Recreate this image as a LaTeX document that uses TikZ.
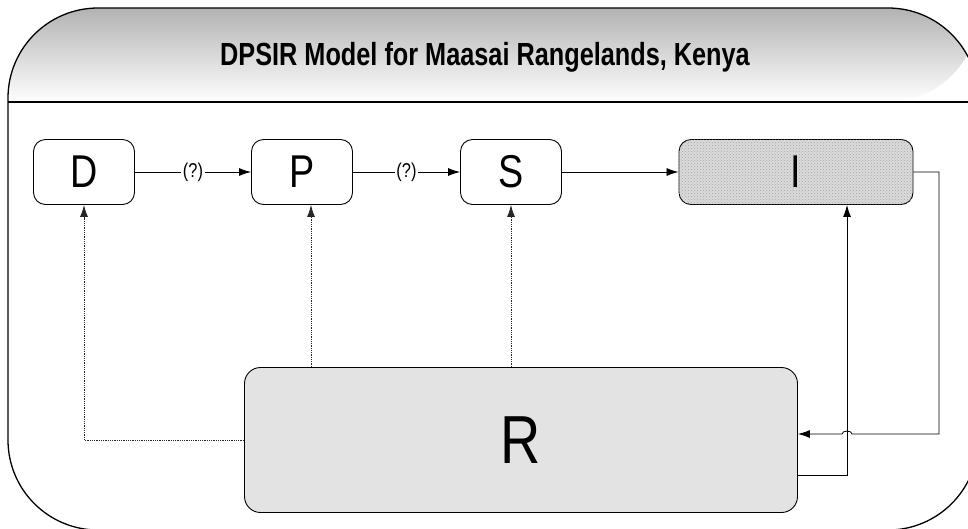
\documentclass[tikz,border=0pt]{standalone}
\usepackage{fontspec}
\usepackage{tikz}
\usetikzlibrary{arrows.meta,patterns}
\newfontfamily\narrowsf{Liberation Sans}[FakeStretch=0.82]
\newfontfamily\titlesf{Liberation Sans}[FakeStretch=0.79]
\tikzstyle{block} = [draw, rounded corners=12pt, minimum height=65pt, minimum width=101pt, inner sep=0pt, line width=0.9pt, font=\narrowsf\fontsize{46}{46}\selectfont]
\tikzstyle{impact} = [block, minimum width=234pt, fill=black!14, postaction={pattern=crosshatch dots, pattern color=black!35}]
\tikzstyle{response} = [block, rounded corners=16pt, minimum width=553pt, minimum height=145pt, fill=black!11, font=\narrowsf\fontsize{68}{68}\selectfont]
\tikzstyle{qmark} = [fill=white, inner sep=1.5pt, font=\narrowsf\fontsize{20}{20}\selectfont]
\tikzstyle{dots} = [densely dotted, black!85]

\begin{document}
\begin{tikzpicture}[x=1pt, y=-1pt, >={Latex[length=12pt,width=8pt]}, line width=0.8pt]
    \useasboundingbox (0,0) rectangle (968,528);
    \begin{scope}
    \clip (0,0) rectangle (968,528);
    % frame with shaded header
    \shade[top color=black!30, bottom color=white, rounded corners=90pt]
        (8,102) -- (8,8) -- (978,8) -- (978,102) [sharp corners] -- cycle;
    \draw[line width=1.3pt, rounded corners=90pt] (8,8) rectangle (978,530);
    \draw[line width=1.3pt] (8,102) -- (978,102);
    \end{scope}
    \node (title) at (485,57) {\titlesf\bfseries\fontsize{32}{32}\selectfont DPSIR Model for Maasai Rangelands, Kenya};

    \node [block] (D) at (84,172) {D};
    \node [block] (P) at (302,172) {P};
    \node [block] (S) at (511,172) {S};
    \node [impact] (I) at (796,172) {I};
    \node [response] (R) at (521,440) {R};

    \draw [->] (D) -- node [qmark] {(?)} (P);
    \draw [->] (P) -- node [qmark] {(?)} (S);
    \draw [->] (S) -- (I);
    %\draw [->] (R.north) -- (I.south);
    \draw [dots, ->] (R.west) -| (D.south);
    \draw [dots, ->] ([xshift=9pt]P.south |- R.north) -- ([xshift=9pt]P.south);
    \draw [dots, ->] (S.south |- R.north) -- (S.south);
    \draw [->] ([yshift=-35pt]R.east) -| ([xshift=51pt]I.south);
    \coordinate (corner) at (939,172);
    \draw [->] (I.east) -- (corner) -- (939,434) -- (852,434)
        to [out=90, in=90] (842,434) -- ([yshift=6pt]R.east);
\end{tikzpicture}
\end{document}
